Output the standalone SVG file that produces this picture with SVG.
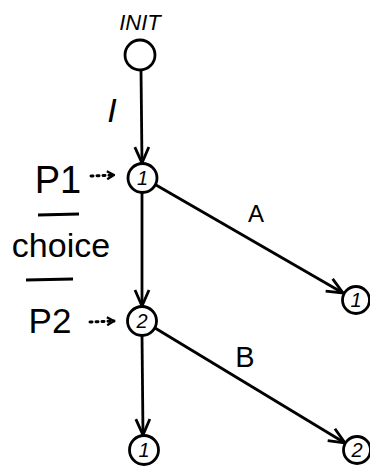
<svg xmlns="http://www.w3.org/2000/svg" width="370" height="468" viewBox="0 0 370 468">
<style>
.n{fill:#fff;stroke:#000;stroke-width:2.8}
.e{fill:none;stroke:#000;stroke-width:2.8}
.d{fill:none;stroke:#000;stroke-width:3;stroke-dasharray:2 4;stroke-linecap:round}
.t{font-family:"Liberation Sans",sans-serif;fill:#000}
.i{font-style:italic}
.nl{font-family:"Liberation Sans",sans-serif;font-size:20px;font-style:italic;text-anchor:middle;fill:#000}
</style>
<defs>
<marker id="v" viewBox="0 0 20 20" refX="18" refY="10" markerWidth="20" markerHeight="20" markerUnits="userSpaceOnUse" orient="auto">
<path d="M2,3 L18,10 L2,17" fill="none" stroke="#000" stroke-width="2.8"/>
</marker>
<marker id="s" viewBox="0 0 10 10" refX="9" refY="5" markerWidth="10" markerHeight="10" markerUnits="userSpaceOnUse" orient="auto">
<path d="M2,1 L9,5 L2,9" fill="none" stroke="#000" stroke-width="2.2"/>
</marker>
</defs>
<g id="connectors">
<line class="e" x1="141" y1="69" x2="142" y2="163" marker-end="url(#v)"/>
<line class="e" x1="142" y1="192" x2="142" y2="306" marker-end="url(#v)"/>
<line class="e" x1="156" y1="185" x2="343" y2="293" marker-end="url(#v)"/>
<line class="e" x1="155" y1="328" x2="345" y2="443" marker-end="url(#v)"/>
<line class="e" x1="142" y1="335" x2="143" y2="435" marker-end="url(#v)"/>
<line class="d" x1="91" y1="176" x2="114" y2="175" marker-end="url(#s)"/>
<line class="d" x1="90" y1="322" x2="114" y2="321" marker-end="url(#s)"/>
</g>
<g id="init">
<circle class="n" cx="140" cy="55" r="15"/>
<text class="t i" x="140" y="30" font-size="22" text-anchor="middle">INIT</text>
</g>
<g id="p1">
<circle class="n" cx="142.5" cy="178" r="14.5"/>
<text class="nl" x="142.5" y="185">1</text>
</g>
<g id="p2">
<circle class="n" cx="142" cy="321" r="14.5"/>
<text class="nl" x="142" y="328">2</text>
</g>
<g id="a1">
<circle class="n" cx="356" cy="300" r="13.5"/>
<text class="nl" x="356" y="307">1</text>
</g>
<g id="b1">
<circle class="n" cx="144" cy="450" r="14.5"/>
<text class="nl" x="144" y="457">1</text>
</g>
<g id="b2">
<circle class="n" cx="357" cy="450" r="13.5"/>
<text class="nl" x="357" y="457">2</text>
</g>
<g id="labels">
<text class="t i" x="112" y="122" font-size="34" text-anchor="middle">I</text>
<text class="t" x="58" y="193" font-size="38" text-anchor="middle">P1</text>
<text class="t" x="50" y="333" font-size="35" text-anchor="middle">P2</text>
<text class="t" x="61" y="257" font-size="34" text-anchor="middle">choice</text>
<line class="e" x1="38" y1="215" x2="79" y2="214"/>
<line class="e" x1="26" y1="280" x2="73" y2="279"/>
<text class="t" x="256" y="222" font-size="24" text-anchor="middle">A</text>
<text class="t" x="245" y="367" font-size="29" text-anchor="middle">B</text>
</g>
</svg>
